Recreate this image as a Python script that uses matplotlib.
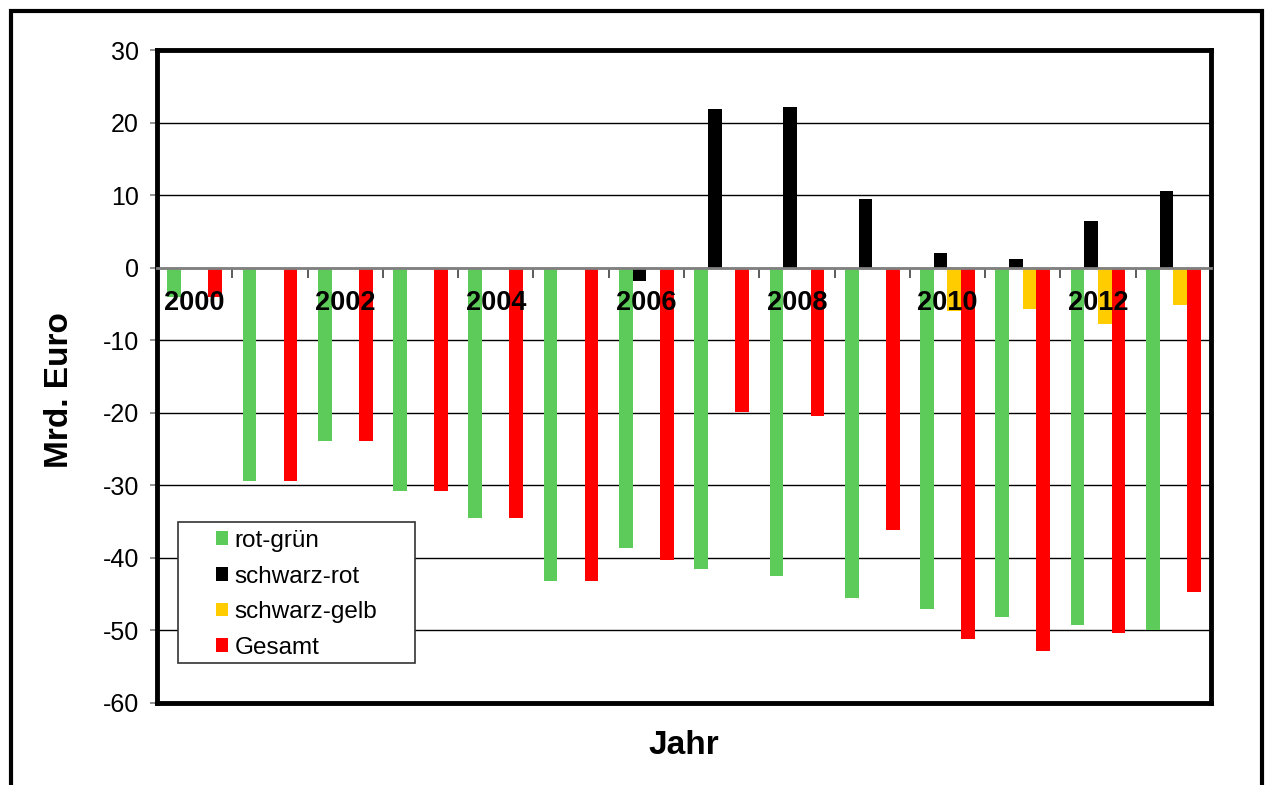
import numpy as np
import matplotlib
matplotlib.use("Agg")
import matplotlib.pyplot as plt
from matplotlib.patches import Rectangle

nan = np.nan

# Haushaltssalden je Koalition, Mrd. Euro
years = list(range(2000, 2014))
year_labels = [str(y) if y % 2 == 0 else "" for y in years]
rot_gruen = [-4.0, -29.4, -23.9, -30.8, -34.5, -43.2, -38.7, -41.6, -42.5, -45.5, -47.0, -48.2, -49.2, -49.9]
schwarz_rot = [nan, nan, nan, nan, nan, nan, -1.8, 21.8, 22.2, 9.5, 2.0, 1.2, 6.5, 10.6]
schwarz_gelb = [nan, nan, nan, nan, nan, nan, nan, nan, nan, nan, -6.0, -5.7, -7.7, -5.2]
gesamt = [-4.0, -29.4, -23.9, -30.8, -34.5, -43.2, -40.3, -19.9, -20.5, -36.2, -51.2, -52.9, -50.4, -44.7]

series = [
    ("rot-grün", rot_gruen, "#5CCB5A"),
    ("schwarz-rot", schwarz_rot, "#000000"),
    ("schwarz-gelb", schwarz_gelb, "#FFCC00"),
    ("Gesamt", gesamt, "#FF0000"),
]

plt.rcParams["font.family"] = ["Liberation Sans", "DejaVu Sans"]
plt.rcParams["axes.unicode_minus"] = False

W, H = 1267, 785
fig = plt.figure(figsize=(W / 100, H / 100), dpi=100)

# Axes rectangle in pixel terms of the reference
left, right, top, bottom = 157, 1211, 50, 703
ax = fig.add_axes([left / W, 1 - bottom / H, (right - left) / W, (bottom - top) / H])

x = np.arange(len(years))
width = 1 / 5.5  # Excel gap width 150 %
for i, (name, vals, color) in enumerate(series):
    ax.bar(x + (i - 1.5) * width, vals, width, color=color, label=name, zorder=3)

ax.set_xlim(-0.5, len(years) - 0.5)
ax.set_ylim(-60, 30)
ax.set_yticks(np.arange(-60, 31, 10))
ax.tick_params(axis="y", labelsize=18, length=5, width=1.2, color="#808080", pad=8)
ax.yaxis.grid(True, color="black", linewidth=1)
ax.set_axisbelow(True)
ax.set_xticks([])
for sp in ax.spines.values():
    sp.set_linewidth(3.5)
    sp.set_color("black")

# category axis crossing at zero
sec = ax.secondary_xaxis(0, transform=ax.transData)
sec.spines["bottom"].set_color("#808080")
sec.spines["bottom"].set_linewidth(2)
sec.set_xticks(x, year_labels)
sec.set_xticks(np.arange(0.5, len(years) - 1, 1), minor=True)
sec.tick_params(axis="x", which="major", length=0, pad=16, labelsize=19.5)
sec.tick_params(axis="x", which="minor", length=7, width=1.2, color="#404040", direction="out")
for lab in sec.get_xticklabels():
    lab.set_fontweight("bold")
sec.set_zorder(4)

# legend box
ax.add_patch(Rectangle((0.0199, 0.0613), 0.2249, 0.2164, transform=ax.transAxes,
                       facecolor="white", edgecolor="#333333", linewidth=1.2, zorder=5))
leg = ax.legend(loc="upper left", bbox_to_anchor=(0.056, 0.265), frameon=False,
                fontsize=17.5, handlelength=0.5, handleheight=0.5, handletextpad=0.25,
                labelspacing=0.56, borderpad=0, borderaxespad=0)
leg.set_zorder(6)

fig.text(60 / W, 1 - 390 / H, "Mrd. Euro", rotation=90, ha="center", va="center",
         fontsize=24, fontweight="bold")
fig.text(684 / W, 1 - 745 / H, "Jahr", ha="center", va="center",
         fontsize=24, fontweight="bold")

# outer chart frame
fig.patches.append(Rectangle((11 / W, -0.05), (1262 - 11) / W, 1.05 - 11 / H,
                             transform=fig.transFigure, fill=False,
                             edgecolor="black", linewidth=3))

fig.savefig("out.png", dpi=100)
